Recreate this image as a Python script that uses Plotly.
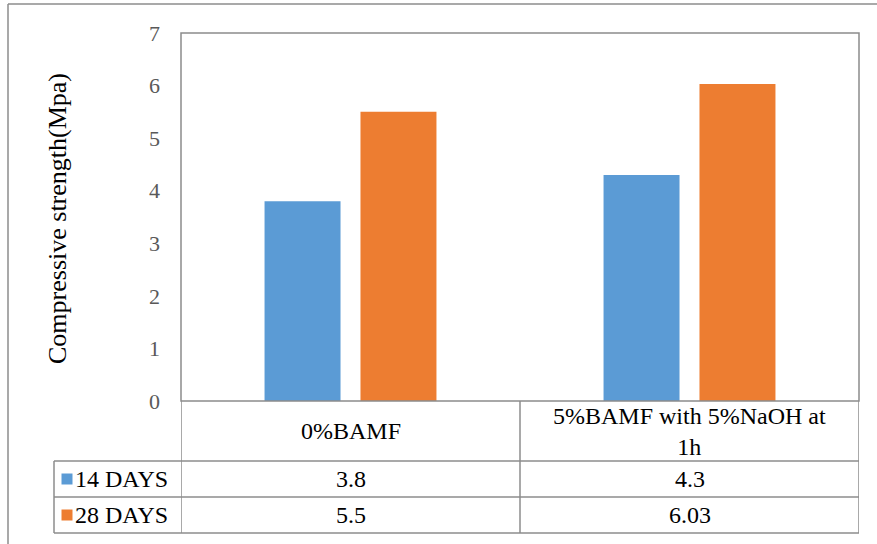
import plotly.graph_objects as go

categories = ["0%BAMF", "5%BAMF with 5%NaOH at 1h"]
category_labels = ["0%BAMF", "5%BAMF with 5%NaOH at<br>1h"]
series_names = ["14 DAYS", "28 DAYS"]
values_14 = [3.8, 4.3]
values_28 = [5.5, 6.03]
colors = ["#5B9BD5", "#ED7D31"]
y_ticks = [0, 1, 2, 3, 4, 5, 6, 7]

W, H = 877, 544
L, R, T, B = 181, 859, 33, 401  # plot area in pixels


def fx(p):
    return (p - L) / (R - L)


def fy(p):
    return (B - p) / (B - T)


FONT = "Liberation Serif"
GRID = "#8c8c8c"

fig = go.Figure()
for name, vals, col in zip(series_names, [values_14, values_28], colors):
    fig.add_trace(go.Bar(x=categories, y=vals, name=name, marker_color=col,
                         marker_line_width=0, showlegend=False))

shapes = []
line = dict(color=GRID, width=1.5)
# plot area border
shapes.append(dict(type="rect", xref="paper", yref="paper", x0=0, x1=1, y0=0, y1=1, line=line))
# outer chart border (top + left)
shapes.append(dict(type="line", xref="paper", yref="paper", x0=fx(8), x1=fx(890), y0=fy(4), y1=fy(4), line=line))
shapes.append(dict(type="line", xref="paper", yref="paper", x0=fx(8), x1=fx(8), y0=fy(4), y1=fy(560), line=line))
# data table horizontal lines
row_lines = [461, 497, 533]
for ry in row_lines:
    shapes.append(dict(type="line", xref="paper", yref="paper", x0=fx(54), x1=1, y0=fy(ry), y1=fy(ry), line=line))
# data table vertical lines (category boundaries)
for cx in [-0.5, 0.5, 1.5]:
    shapes.append(dict(type="line", xref="x", yref="paper", x0=cx, x1=cx, y0=0, y1=fy(533), line=line))
shapes.append(dict(type="line", xref="paper", yref="paper", x0=fx(54), x1=fx(54), y0=fy(461), y1=fy(533), line=line))

annotations = []
tfont = dict(family=FONT, size=24, color="#000000")
# header row: category labels
for cat, lab in zip(categories, category_labels):
    annotations.append(dict(x=cat, xref="x", y=fy(431), yref="paper", text=lab, showarrow=False,
                            font=tfont, xanchor="center", yanchor="middle", align="center"))
# value rows
row_centers = [479, 515]
for rc, name, vals, col in zip(row_centers, series_names, [values_14, values_28], colors):
    shapes.append(dict(type="rect", xref="paper", yref="paper", x0=fx(61.5), x1=fx(72.5),
                       y0=fy(rc - 5.5), y1=fy(rc + 5.5), fillcolor=col, line=dict(width=0)))
    annotations.append(dict(x=fx(73), xref="paper", y=fy(rc), yref="paper", text=name, showarrow=False,
                            font=tfont, xanchor="left", yanchor="middle"))
    for cat, v in zip(categories, vals):
        annotations.append(dict(x=cat, xref="x", y=fy(rc), yref="paper", text=str(v), showarrow=False,
                                font=tfont, xanchor="center", yanchor="middle"))
# y-axis title
annotations.append(dict(x=fx(57), xref="paper", y=fy(219), yref="paper", text="Compressive strength(Mpa)",
                        textangle=-90, showarrow=False, font=dict(family=FONT, size=26, color="#000000"),
                        xanchor="center", yanchor="middle"))

fig.update_layout(
    width=W, height=H,
    margin=dict(l=L, r=W - R, t=T, b=H - B, pad=0),
    paper_bgcolor="white", plot_bgcolor="white",
    barmode="group", bargap=0.434, bargroupgap=0.208,
    shapes=shapes, annotations=annotations,
    font=dict(family=FONT),
)
fig.update_xaxes(range=[-0.5, 1.5], showticklabels=False, showgrid=False, zeroline=False,
                 showline=False, ticks="")
fig.update_yaxes(range=[0, 7], tickvals=y_ticks, showgrid=False, zeroline=False, showline=False,
                 ticks="", ticklabelstandoff=20,
                 tickfont=dict(family=FONT, size=22, color="#595959"))

fig.write_html("out.html", config={"displayModeBar": False},
               post_script="document.body.style.margin='0';")
